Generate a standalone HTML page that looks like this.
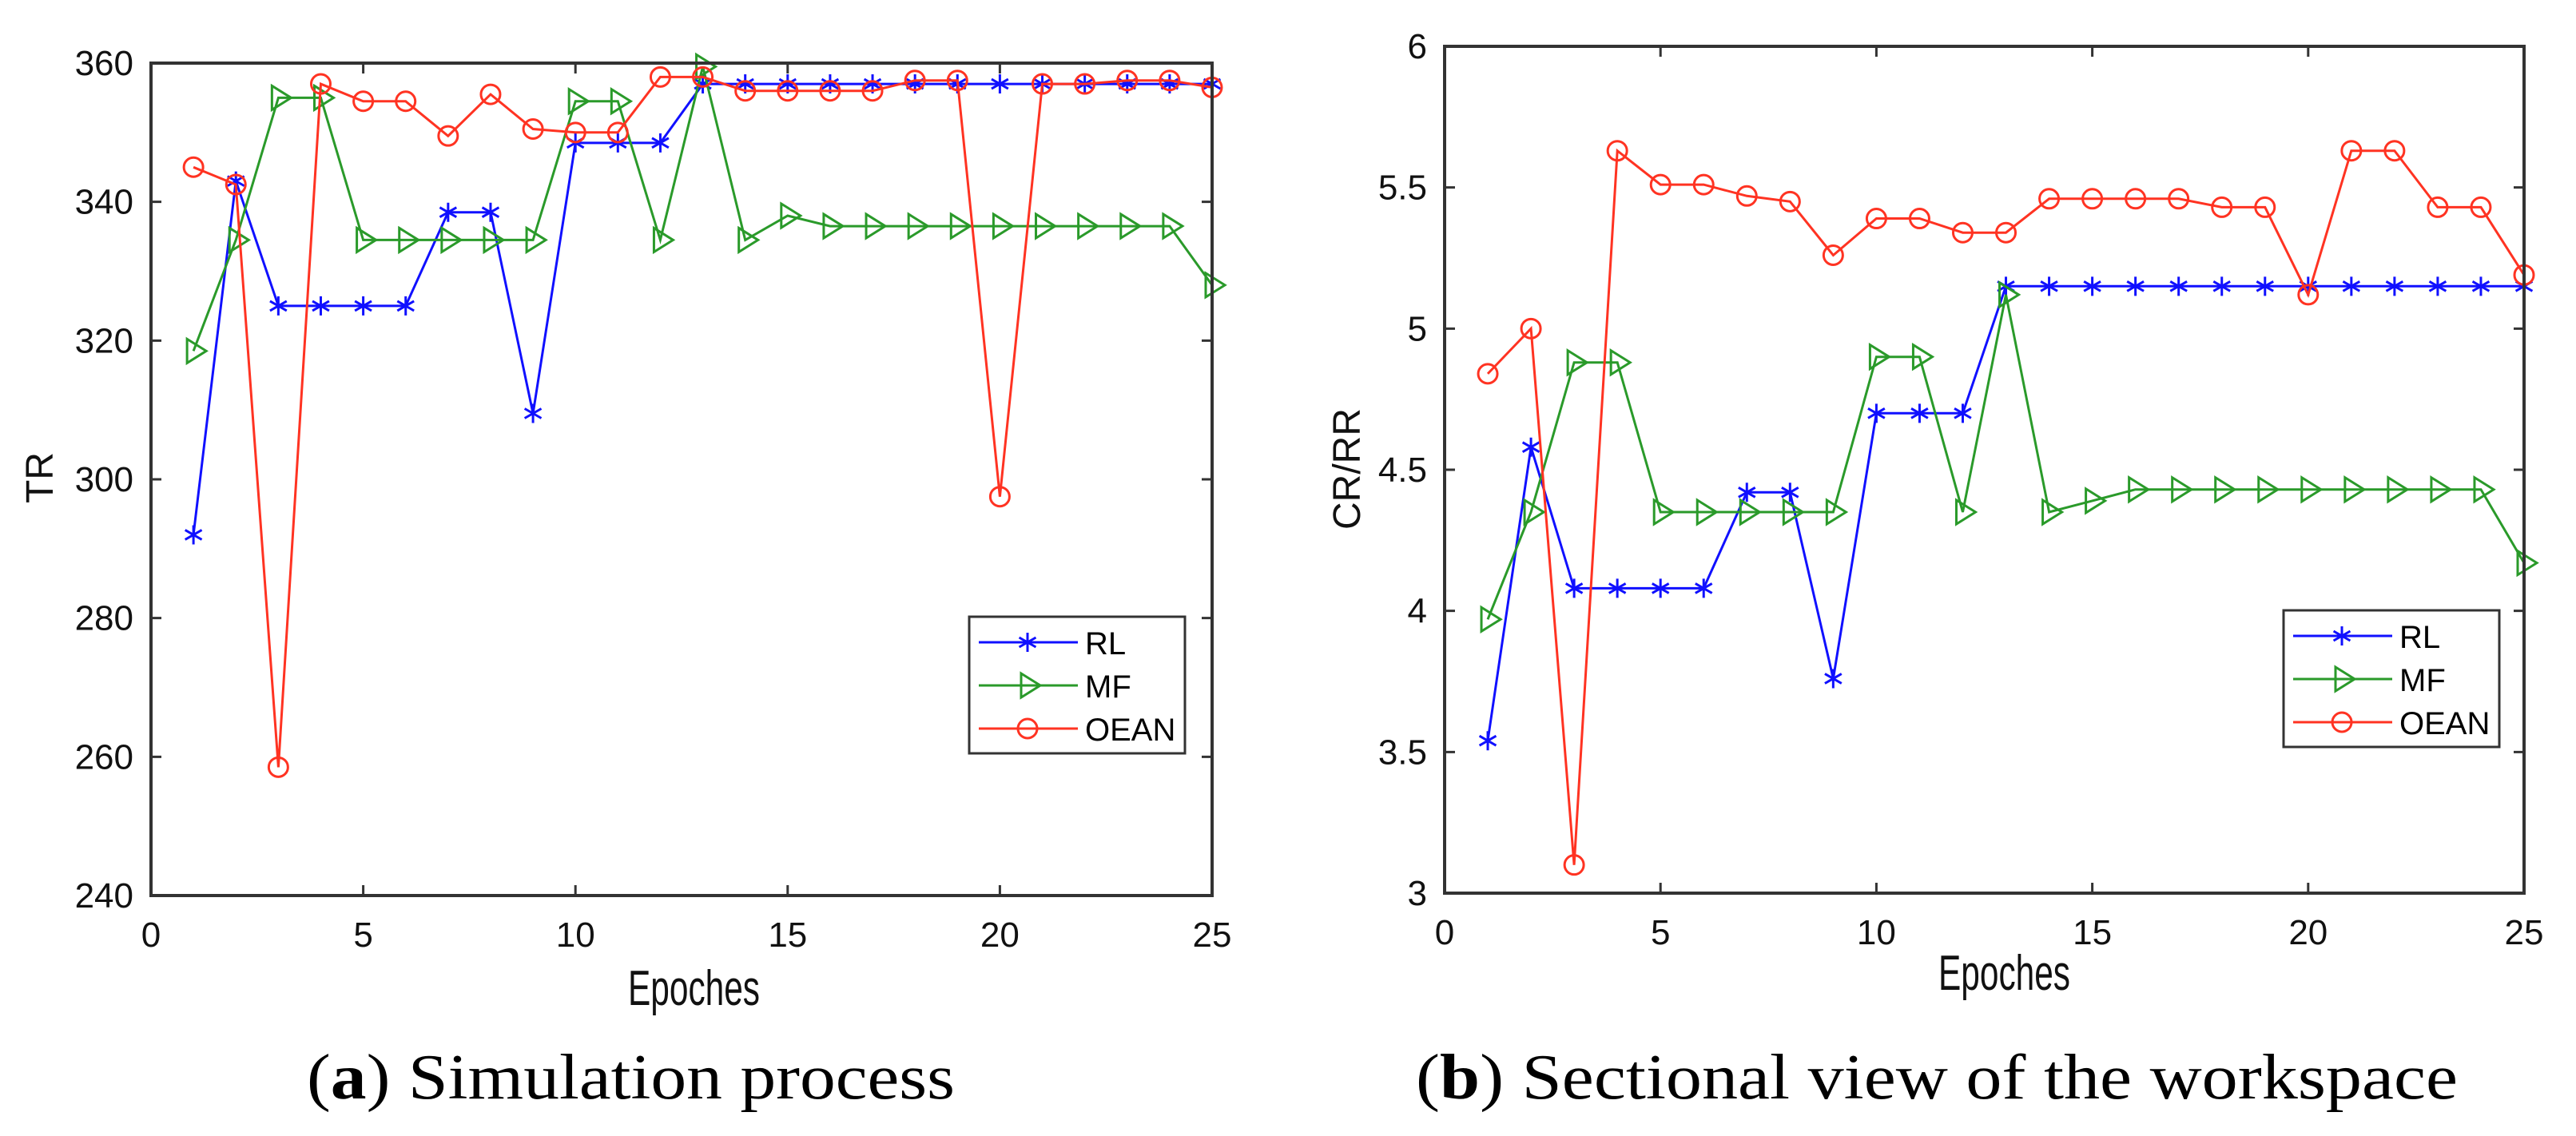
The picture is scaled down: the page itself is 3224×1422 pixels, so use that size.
<!DOCTYPE html>
<html><head><meta charset="utf-8"><style>
html,body{margin:0;padding:0;background:#fff;width:3224px;height:1422px;overflow:hidden}
svg{display:block}
</style></head><body>
<svg id="fig" width="3224" height="1422" viewBox="0 0 3224 1422" xmlns="http://www.w3.org/2000/svg">
<text x="384" y="1375" font-family="Liberation Serif, serif" font-size="80" textLength="811" lengthAdjust="spacingAndGlyphs">(<tspan font-weight="bold">a</tspan>) Simulation process</text>
<text x="1772" y="1375" font-family="Liberation Serif, serif" font-size="80" textLength="1304" lengthAdjust="spacingAndGlyphs">(<tspan font-weight="bold">b</tspan>) Sectional view of the workspace</text>
</svg>
<script>
const epochs = [1,2,3,4,5,6,7,8,9,10,11,12,13,14,15,16,17,18,19,20,21,22,23,24,25];
const xTicks = [0,5,10,15,20,25];
const trRL = [292,343,325,325,325,325,338.5,338.5,309.5,348.5,348.5,348.5,357,357,357,357,357,357,357,357,357,357,357,357,357];
const trMF = [318.5,334.5,355,355,334.5,334.5,334.5,334.5,334.5,354.5,354.5,334.5,359.5,334.5,338,336.5,336.5,336.5,336.5,336.5,336.5,336.5,336.5,336.5,328];
const trOEAN = [345,342.5,258.5,357,354.5,354.5,349.5,355.5,350.5,350,350,358,358,356,356,356,356,357.5,357.5,297.5,357,357,357.5,357.5,356.5];
const trTicks = [240,260,280,300,320,340,360];
const crRL = [3.54,4.58,4.08,4.08,4.08,4.08,4.42,4.42,3.76,4.70,4.70,4.70,5.15,5.15,5.15,5.15,5.15,5.15,5.15,5.15,5.15,5.15,5.15,5.15,5.15];
const crMF = [3.97,4.35,4.88,4.88,4.35,4.35,4.35,4.35,4.35,4.90,4.90,4.35,5.12,4.35,4.39,4.43,4.43,4.43,4.43,4.43,4.43,4.43,4.43,4.43,4.17];
const crOEAN = [4.84,5.00,3.10,5.63,5.51,5.51,5.47,5.45,5.26,5.39,5.39,5.34,5.34,5.46,5.46,5.46,5.46,5.43,5.43,5.12,5.63,5.63,5.43,5.43,5.19];
const crTicks = [3,3.5,4,4.5,5,5.5,6];
const crTickLabels = ['3','3.5','4','4.5','5','5.5','6'];
const seriesNames = ['RL','MF','OEAN'];

const NS='http://www.w3.org/2000/svg';
const svg=document.getElementById('fig');
const COL={RL:'#1010ff',MF:'#2a9a2a',OEAN:'#ff3322'};
function mk(tag,attrs,parent){const e=document.createElementNS(NS,tag);for(const k in attrs)e.setAttribute(k,attrs[k]);(parent||svg).appendChild(e);return e;}

function marker(g,type,x,y,c){
  if(type==='RL'){
    const s=12;
    const p=mk('path',{d:`M${x} ${y-s}V${y+s}M${x-s*0.87} ${y-s*0.5}L${x+s*0.87} ${y+s*0.5}M${x-s*0.87} ${y+s*0.5}L${x+s*0.87} ${y-s*0.5}`,stroke:c,'stroke-width':3,fill:'none'},g);
    
    
  } else if(type==='MF'){
    const p=mk('path',{d:`M${x-8} ${y-15}L${x+16} ${y}L${x-8} ${y+15}Z`,stroke:c,'stroke-width':3,fill:'none'},g);
    
    
  } else {
    const p=mk('circle',{cx:x,cy:y,r:12,stroke:c,'stroke-width':3,fill:'none'},g);
    
    
  }
}

function chart(o){
  const g=mk('g',{});
  
  
  const X=v=>o.x0+(v-0)/(25-0)*(o.x1-o.x0);
  const Y=v=>o.y1-(v-o.ymin)/(o.ymax-o.ymin)*(o.y1-o.y0);
  // series
  const data={RL:o.rl,MF:o.mf,OEAN:o.oean};
  ['RL','MF','OEAN'].forEach(k=>{
    const sg=mk('g',{},g);
    
    
    const pts=epochs.map((e,i)=>X(e).toFixed(1)+','+Y(data[k][i]).toFixed(1)).join(' ');
    const pl=mk('polyline',{points:pts,fill:'none',stroke:COL[k],'stroke-width':3,'stroke-linejoin':'miter'},sg);
    
    
    epochs.forEach((e,i)=>marker(sg,k,X(e),Y(data[k][i]),COL[k]));
  });
  // box
  const box=mk('rect',{x:o.x0,y:o.y0,width:o.x1-o.x0,height:o.y1-o.y0,fill:'none',stroke:'#333','stroke-width':4},g);
  
  
  // x ticks
  xTicks.forEach(t=>{
    const x=X(t);
    mk('path',{d:`M${x} ${o.y1}v-13M${x} ${o.y0}v13`,stroke:'#333','stroke-width':3},g);
    const tx=mk('text',{x:x,y:o.y1+64,'text-anchor':'middle','font-family':'Liberation Sans, sans-serif','font-size':44,fill:'#111'},g);
    tx.textContent=t;
    
    
  });
  o.ticks.forEach((t,i)=>{
    const y=Y(t);
    mk('path',{d:`M${o.x0} ${y}h13M${o.x1} ${y}h-13`,stroke:'#333','stroke-width':3},g);
    const tx=mk('text',{x:o.x0-22,y:y+15,'text-anchor':'end','font-family':'Liberation Sans, sans-serif','font-size':44,fill:'#111'},g);
    tx.textContent=o.labels[i];
    
    
  });
  const xl=mk('text',{x:o.xlx,y:o.xly,'font-family':'Liberation Sans, sans-serif','font-size':62,textLength:165,lengthAdjust:'spacingAndGlyphs',fill:'#111'},g);
  xl.textContent='Epoches';
  
  
  const yl=mk('text',{x:0,y:0,transform:`translate(${o.ylx},${o.yly}) rotate(-90)`,'text-anchor':'middle','font-family':'Liberation Sans, sans-serif','font-size':48,fill:'#111'},g);
  yl.textContent=o.ytitle;
  
  
  // legend
  const lg=mk('g',{},g);
  
  
  mk('rect',{x:o.lx,y:o.ly,width:270,height:171,fill:'#fff',stroke:'#333','stroke-width':3},lg);
  seriesNames.forEach((k,i)=>{
    const ry=o.ly+32+i*54;
    const eg=mk('g',{},lg);
    
    
    mk('line',{x1:o.lx+12,x2:o.lx+136,y1:ry,y2:ry,stroke:COL[k],'stroke-width':3},eg);
    marker(eg,k,o.lx+73,ry,COL[k]);
    const t=mk('text',{x:o.lx+145,y:ry+15,'font-family':'Liberation Sans, sans-serif','font-size':40,fill:'#000'},eg);
    t.textContent=k;
  });
}
chart({name:'chart-tr',x0:189,x1:1517,y0:79,y1:1121,ymin:240,ymax:360,ticks:trTicks,labels:trTicks.map(String),rl:trRL,mf:trMF,oean:trOEAN,ytitle:'TR',ylx:66,yly:598,xlx:786,xly:1258,lx:1213,ly:772});
chart({name:'chart-crrr',x0:1808,x1:3159,y0:58,y1:1118,ymin:3,ymax:6,ticks:crTicks,labels:crTickLabels,rl:crRL,mf:crMF,oean:crOEAN,ytitle:'CR/RR',ylx:1702,yly:587,xlx:2426,xly:1239,lx:2858,ly:764});
</script>
</body></html>
